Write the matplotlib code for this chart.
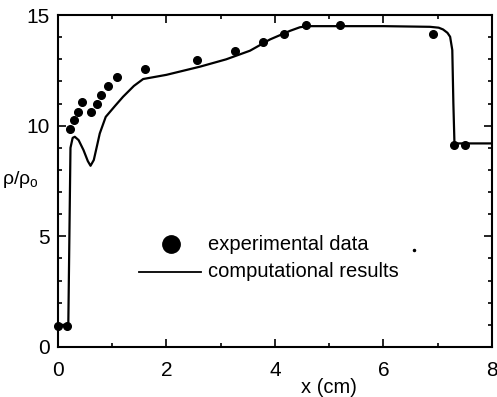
import matplotlib.pyplot as plt
from matplotlib.ticker import MultipleLocator

plt.rcParams['font.family'] = ['Liberation Sans', 'DejaVu Sans']
plt.rcParams['mathtext.fontset'] = 'custom'
plt.rcParams['mathtext.sf'] = 'Liberation Sans'

# experimental data
exp_x = [0.0, 0.16, 0.22, 0.29, 0.36, 0.45, 0.60, 0.71, 0.79, 0.92, 1.08,
         1.61, 2.57, 3.26, 3.78, 4.17, 4.57, 5.20, 6.91, 7.31, 7.50]
exp_y = [0.96, 0.96, 9.85, 10.26, 10.63, 11.07, 10.63, 11.0, 11.39, 11.79, 12.19,
         12.58, 12.95, 13.38, 13.77, 14.16, 14.57, 14.57, 14.13, 9.13, 9.13]

# computational results
comp_x = [0.0, 0.19, 0.21, 0.23, 0.27, 0.31, 0.38, 0.47, 0.55, 0.60, 0.66, 0.72,
          0.77, 0.88, 1.05, 1.2, 1.4, 1.57, 2.0, 2.62, 3.1, 3.54, 3.91, 4.28,
          4.46, 4.6, 4.77, 6.0, 6.86, 7.02, 7.1, 7.18, 7.23, 7.27, 7.29, 7.31, 7.35, 8.0]
comp_y = [1.0, 1.0, 5.0, 9.0, 9.45, 9.5, 9.35, 8.9, 8.4, 8.19, 8.45, 9.1,
          9.65, 10.4, 10.89, 11.31, 11.8, 12.11, 12.3, 12.67, 13.0, 13.39, 13.9, 14.29,
          14.45, 14.5, 14.5, 14.5, 14.47, 14.43, 14.35, 14.2, 14.02, 13.42, 11.0, 9.2, 9.2, 9.2]

x_ticks = [0, 2, 4, 6, 8]
y_ticks = [0, 5, 10, 15]

fig = plt.figure(figsize=(4.97, 3.97), dpi=100)
ax = fig.add_axes([0.1167, 0.126, 0.873, 0.836])

ax.plot(comp_x, comp_y, color='black', lw=1.6, solid_joinstyle='round')
ax.plot(exp_x, exp_y, 'o', color='black', markersize=5.5, clip_on=False)

# legend drawn by hand
ax.plot([2.08], [4.65], 'o', color='black', markersize=12.5)
ax.text(2.76, 4.65, 'experimental data', fontsize=14.5, va='center')
ax.plot([1.49, 2.64], [3.4, 3.4], color='black', lw=1.3)
ax.text(2.76, 3.4, 'computational results', fontsize=14.5, va='center')
ax.plot([6.56], [4.37], 'o', color='black', markersize=1.5)

ax.set_xlim(0, 8)
ax.set_ylim(0, 15)
ax.set_xticks(x_ticks)
ax.set_yticks(y_ticks)
ax.xaxis.set_minor_locator(MultipleLocator(1))
ax.yaxis.set_minor_locator(MultipleLocator(1))
ax.tick_params(which='both', direction='in', top=True, right=True, labelsize=15, width=1.2)
ax.tick_params(which='major', length=6)
ax.tick_params(axis='x', which='major', pad=10)
ax.tick_params(axis='y', which='major', pad=6)
ax.tick_params(which='minor', length=3)
for s in ax.spines.values():
    s.set_linewidth(1.5)

ax.text(5.0, -1.85, 'x (cm)', fontsize=14.5, ha='center', va='center')
ax.text(-0.7, 7.55, r'ρ/ρ$_\mathsf{o}$', fontsize=14, ha='center', va='center')

fig.savefig('out.png', dpi=100)
